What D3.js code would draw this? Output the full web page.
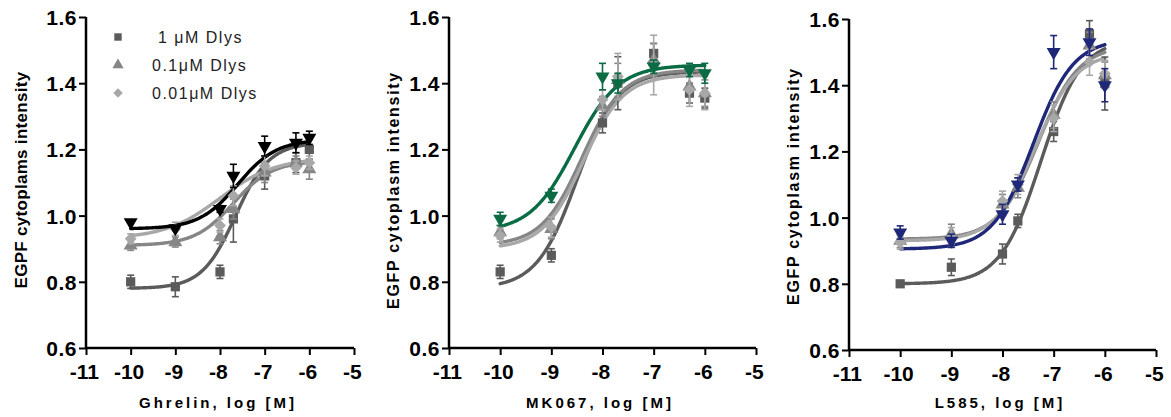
<!DOCTYPE html>
<html>
<head>
<meta charset="utf-8">
<script src="https://cdn.jsdelivr.net/npm/d3@7"></script>
<style>
  body { margin: 0; background: #fff; }
  svg { display: block; font-family: "Liberation Sans", Arial, sans-serif; }
</style>
</head>
<body>
<svg id="chart" width="1171" height="417"></svg>
<script>
// ---- data ----
const xTicks = [-11, -10, -9, -8, -7, -6, -5]
const yTicks = [0.6, 0.8, 1.0, 1.2, 1.4, 1.6]
const logDose = [-10, -9, -8, -7.7, -7, -6.3, -6]
const legendNames = [" 1 μM Dlys", "0.1μM Dlys", "0.01μM Dlys"]
const agonists = ["Ghrelin", "MK067", "L585"]
const yTitles = ["EGPF cytoplams intensity", "EGFP cytoplasm intensity", "EGFP cytoplasm intensity"]

// series order: 1 uM, 0.1 uM, 0.01 uM, no Dlys
const ghrelinMean = [
  [0.80, 0.785, 0.83, 0.99, 1.12, 1.16, 1.20],
  [0.91, 0.92, 0.935, 1.02, 1.13, 1.16, 1.14],
  [0.93, 0.96, 0.97, 1.06, 1.15, 1.145, 1.16],
  [0.98, 0.962, 1.02, 1.12, 1.21, 1.22, 1.235]
]
const ghrelinSem = [
  [0.02, 0.03, 0.02, 0.07, 0.04, 0.03, 0.03],
  [0.015, 0.015, 0.02, 0.03, 0.03, 0.02, 0.03],
  [0.015, 0.02, 0.02, 0.03, 0.03, 0.02, 0.02],
  [0.0, 0.0, 0.01, 0.035, 0.03, 0.03, 0.02]
]
const mk067Mean = [
  [0.83, 0.88, 1.28, 1.40, 1.49, 1.37, 1.355],
  [0.95, 0.96, 1.33, 1.41, 1.47, 1.39, 1.37],
  [0.94, 0.965, 1.35, 1.42, 1.455, 1.38, 1.37],
  [0.99, 1.06, 1.42, 1.40, 1.45, 1.44, 1.43]
]
const mk067Sem = [
  [0.02, 0.02, 0.03, 0.08, 0.03, 0.03, 0.03],
  [0.02, 0.03, 0.03, 0.05, 0.05, 0.05, 0.04],
  [0.02, 0.03, 0.03, 0.07, 0.09, 0.05, 0.05],
  [0.02, 0.02, 0.04, 0.03, 0.02, 0.02, 0.03]
]
const l585Mean = [
  [0.80, 0.85, 0.89, 0.99, 1.26, 1.555, 1.405],
  [0.93, 0.95, 1.04, 1.09, 1.31, 1.52, 1.43],
  [0.925, 0.94, 1.05, 1.10, 1.30, 1.47, 1.435],
  [0.955, 0.93, 1.01, 1.10, 1.50, 1.53, 1.40]
]
const l585Sem = [
  [0.005, 0.025, 0.03, 0.02, 0.03, 0.04, 0.08],
  [0.02, 0.03, 0.03, 0.03, 0.04, 0.04, 0.04],
  [0.02, 0.03, 0.03, 0.03, 0.04, 0.04, 0.04],
  [0.02, 0.02, 0.03, 0.02, 0.05, 0.04, 0.05]
]
// fitted curves: [bottom, top, logEC50, hill]
const ghrelinFit = [[0.78, 1.22, -7.65, 1.15], [0.91, 1.165, -7.7, 1.0], [0.93, 1.175, -8.0, 0.7], [0.96, 1.23, -7.6, 1.0]]
const mk067Fit = [[0.78, 1.435, -8.5, 1.1], [0.91, 1.44, -8.4, 1.1], [0.90, 1.425, -8.38, 1.1], [0.95, 1.455, -8.55, 1.0]]
const l585Fit = [[0.80, 1.54, -7.25, 1.1], [0.935, 1.52, -7.3, 1.1], [0.93, 1.50, -7.35, 1.1], [0.905, 1.54, -7.4, 1.1]]

const seriesColors = ["#5b5b5b", "#868686", "#a8a8a8"]
const lastColors = ["#000000", "#0b6b44", "#1f2878"]
const fitRange = [-10, -6]

// ---- layout ----
const panels = [
  {x0: 86, x1: 354, y0: 348, y1: 17, mean: ghrelinMean, sem: ghrelinSem, fit: ghrelinFit, titleX: 21, titleY: 180, titleSize: 17, titleSpacing: 0.3, xTitleX: 218},
  {x0: 449, x1: 756, y0: 348, y1: 17, mean: mk067Mean, sem: mk067Sem, fit: mk067Fit, titleX: 393, titleY: 190, titleSize: 16, titleSpacing: 1.7, xTitleX: 600},
  {x0: 849, x1: 1156, y0: 350, y1: 19, mean: l585Mean, sem: l585Sem, fit: l585Fit, titleX: 793, titleY: 186, titleSize: 16, titleSpacing: 1.7, xTitleX: 1000}
]

const svg = d3.select("#chart")

function markerPath(kind, size) {
  if (kind === 1 || kind === 3) return d3.symbol(d3.symbolTriangle, size)()
  return d3.symbol(d3.symbolSquare, size)()
}
function markerRotate(kind) {
  if (kind === 2) return 45
  if (kind === 3) return 180
  return 0
}

function fourPL(p, x) {
  return p[0] + (p[1] - p[0]) / (1 + Math.pow(10, (p[2] - x) * p[3]))
}

panels.forEach((p, pi) => {
  const x = d3.scaleLinear().domain([-11, -5]).range([p.x0, p.x1])
  const y = d3.scaleLinear().domain([0.6, 1.6]).range([p.y0, p.y1])
  const g = svg.append("g")
  const colors = seriesColors.concat([lastColors[pi]])

  // axes
  const yAxis = g.append("g")
    .attr("transform", "translate(" + p.x0 + ",0)")
    .call(d3.axisLeft(y).tickValues(yTicks).tickFormat(d3.format(".1f")).tickSize(7).tickPadding(2))
  const xAxis = g.append("g")
    .attr("transform", "translate(0," + p.y0 + ")")
    .call(d3.axisBottom(x).tickValues(xTicks).tickFormat(d => d).tickSize(7).tickPadding(4))
  ;[yAxis, xAxis].forEach(a => {
    a.select(".domain").attr("stroke", "#000").attr("stroke-width", 2.5)
      .attr("d", a === yAxis ? "M0," + p.y0 + "V" + p.y1 : "M" + p.x0 + ",0H" + p.x1)
    a.selectAll(".tick line").attr("stroke", "#000").attr("stroke-width", 2)
    a.selectAll(".tick text").attr("fill", "#000").style("font-size", "21px").style("font-weight", "bold")
  })
  yAxis.selectAll(".tick text").attr("dy", "0.36em").style("letter-spacing", "0.5px")
  xAxis.selectAll(".tick text").attr("dy", "0.95em").attr("dx", "-0.1em")

  // axis titles
  g.append("text")
    .attr("transform", "translate(" + p.titleX + "," + p.titleY + ") rotate(-90)")
    .attr("text-anchor", "middle").attr("dy", "0.35em")
    .style("font-size", p.titleSize + "px").style("font-weight", "bold").style("letter-spacing", p.titleSpacing + "px")
    .text(yTitles[pi])
  g.append("text")
    .attr("x", p.xTitleX).attr("y", 408)
    .attr("text-anchor", "middle")
    .style("font-size", "15px").style("font-weight", "bold").style("letter-spacing", "3px")
    .text(agonists[pi] + ", log [M]")

  // fitted curves
  const fitX = d3.range(fitRange[0], fitRange[1] + 0.001, 0.02)
  const line = d3.line().x(d => x(d[0])).y(d => y(d[1]))
  p.fit.forEach((f, si) => {
    g.append("path")
      .datum(fitX.map(v => [v, fourPL(f, v)]))
      .attr("fill", "none").attr("stroke", colors[si])
      .attr("stroke-width", 3.4).attr("stroke-linecap", "round")
      .attr("d", line)
  })

  // points with error bars
  p.mean.forEach((vals, si) => {
    const sg = g.append("g").attr("fill", colors[si]).attr("stroke", colors[si])
    vals.forEach((v, i) => {
      const cx = x(logDose[i]), e = p.sem[si][i]
      if (e > 0) {
        const top = y(v + e), bot = y(v - e)
        sg.append("line").attr("x1", cx).attr("x2", cx).attr("y1", top).attr("y2", bot).attr("stroke-width", 1.6)
        sg.append("line").attr("x1", cx - 3.5).attr("x2", cx + 3.5).attr("y1", top).attr("y2", top).attr("stroke-width", 1.6)
        sg.append("line").attr("x1", cx - 3.5).attr("x2", cx + 3.5).attr("y1", bot).attr("y2", bot).attr("stroke-width", 1.6)
      }
      sg.append("path")
        .attr("d", markerPath(si, si === 2 ? 70 : 85))
        .attr("stroke", "none")
        .attr("transform", "translate(" + cx + "," + y(v) + ") rotate(" + markerRotate(si) + ")")
    })
  })

  // legend (first panel only)
  if (pi === 0) {
    const lg = g.append("g")
    legendNames.forEach((name, i) => {
      const ly = 37 + i * 28
      lg.append("path")
        .attr("d", markerPath(i, i === 2 ? 45 : 55))
        .attr("fill", seriesColors[i])
        .attr("transform", "translate(118," + ly + ") rotate(" + markerRotate(i) + ")")
      lg.append("text")
        .attr("x", 152).attr("y", ly + 6)
        .style("font-size", "16px").style("letter-spacing", "1.5px").style("white-space", "pre")
        .attr("fill", "#222")
        .text(name)
    })
  }
})
</script>
</body>
</html>
